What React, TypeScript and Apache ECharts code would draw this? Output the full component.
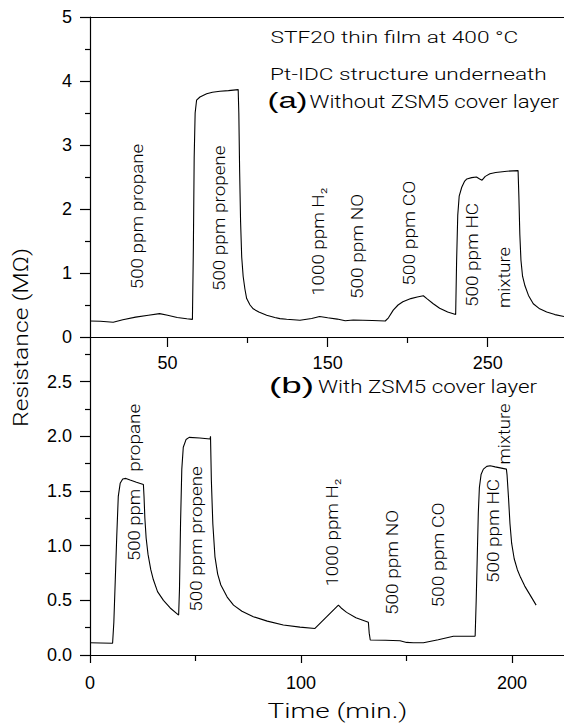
import React, { useEffect, useRef } from "react";
import * as echarts from "echarts";

// ---------- data ----------
// (a) Without ZSM5 cover layer: time (min.) and resistance (MΩ)
const topTime = [
  1.5, 8, 16, 22, 30, 38, 45, 50, 56, 62, 65.5, 66.1, 66.6, 67.2, 68.1, 70.2, 74.4, 78, 82.7, 88, 94.1,
  94.5, 95, 95.6, 96.3, 97.2, 98.3, 99.4, 101.5, 103.5, 107, 111.9, 117, 120.2, 124.4, 132.7, 140, 145,
  150, 156, 161, 166, 172, 178, 186, 188, 191, 194, 197, 202, 206, 209.8, 212, 216, 220, 225, 230,
  230.6, 231.3, 232.2, 233.8, 235.5, 237, 240, 243, 245, 246.5, 248.5, 251.4, 255, 262, 269,
  269.5, 270.1, 270.8, 271.8, 273.3, 275.5, 278.5, 282.5, 286.9, 292, 297.7,
];
const topResistance = [
  0.25, 0.245, 0.23, 0.27, 0.31, 0.34, 0.365, 0.34, 0.305, 0.285, 0.275, 1.4, 2.8, 3.5, 3.7, 3.75, 3.8, 3.825, 3.84, 3.85, 3.865,
  3.5, 2.6, 1.8, 1.25, 0.95, 0.75, 0.6, 0.5, 0.44, 0.39, 0.34, 0.305, 0.287, 0.277, 0.262, 0.29, 0.32,
  0.3, 0.28, 0.255, 0.265, 0.262, 0.258, 0.25, 0.3, 0.42, 0.5, 0.55, 0.6, 0.625, 0.645, 0.6, 0.52, 0.45, 0.39, 0.35,
  1.2, 1.9, 2.2, 2.34, 2.43, 2.47, 2.49, 2.5, 2.47, 2.45, 2.51, 2.55, 2.57, 2.59, 2.6,
  2.2, 1.6, 1.2, 0.95, 0.8, 0.65, 0.52, 0.44, 0.39, 0.35, 0.32,
];

// (b) With ZSM5 cover layer
const bottomTime = [
  0, 5, 10.7, 11.3, 12, 12.7, 13.4, 14.3, 15.5, 17, 19, 22, 25.3, 25.6, 26, 26.6, 27.5, 28.8, 30, 32, 34.8, 38, 42,
  42.4, 42.9, 43.5, 44.2, 45.5, 47, 52, 56.9, 57.1, 57.5, 58.2, 59.2, 60.5, 62, 65, 68, 72, 77.4, 84, 91.6, 99.5,
  106.6, 117.7, 119, 121.6, 126, 131.9, 132.3, 132.8, 140, 146.9, 150, 153.2, 158, 165, 172.2, 182.5,
  183, 183.5, 184, 184.5, 185.3, 186.4, 188, 189.6, 192, 197.3, 197.6, 198.3, 199, 199.8, 201, 202.5, 204, 206,
  208.5, 211.4,
];
const bottomResistance = [
  0.112, 0.11, 0.107, 0.3, 0.7, 1.1, 1.45, 1.57, 1.61, 1.615, 1.6, 1.58, 1.56, 1.45, 1.25, 1.07, 0.92, 0.78, 0.69, 0.58, 0.5, 0.43, 0.365,
  0.6, 1.2, 1.7, 1.9, 1.97, 1.99, 1.985, 1.975, 2.0, 1.6, 1.2, 0.9, 0.74, 0.64, 0.53, 0.456, 0.4, 0.35, 0.31, 0.275, 0.255,
  0.243, 0.456, 0.43, 0.39, 0.34, 0.3, 0.2, 0.137, 0.135, 0.13, 0.115, 0.112, 0.112, 0.14, 0.172, 0.173,
  0.5, 0.9, 1.3, 1.53, 1.65, 1.7, 1.725, 1.73, 1.72, 1.7, 1.65, 1.44, 1.2, 1.02, 0.88, 0.78, 0.71, 0.63,
  0.55, 0.456,
];

// axis ticks / labels
const topXMajor = [50, 150, 250];
const topXMinor = [100, 200];
const topYMajor = [0, 1, 2, 3, 4, 5];
const topYMinor = [0.5, 1.5, 2.5, 3.5, 4.5];
const bottomXMajor = [0, 100, 200];
const bottomXMinor = [50, 150];
const bottomYMajor = [0, 0.5, 1, 1.5, 2, 2.5];
const bottomYMinor = [0.25, 0.75, 1.25, 1.75, 2.25, 2.75];

// annotation texts
const headerTexts = [
  "STF20 thin film at 400 °C",
  "Pt-IDC structure underneath",
  "(a)",
  "Without ZSM5 cover layer",
  "(b)",
  "With ZSM5 cover layer",
];
const gasTexts = [
  "500 ppm propane",
  "500 ppm propene",
  "1000 ppm H₂",
  "500 ppm NO",
  "500 ppm CO",
  "500 ppm HC",
  "mixture",
  "500 ppm",
  "propane",
  "500 ppm propene",
  "1000 ppm H₂",
  "500 ppm NO",
  "500 ppm CO",
  "500 ppm HC",
  "mixture",
];
const xTitle = "Time (min.)";
const yTitle = "Resistance (MΩ)";

// ---------- layout (pixels) ----------
const FONT = '"Liberation Sans", Arial, Helvetica, sans-serif';
const LIGHT = 'Roboto, "Liberation Sans", Arial, sans-serif';
const headerLayout = [
  { x: 270.5, base: 43.3, fs: 16.5, w: 248, bold: false },
  { x: 270, base: 80, fs: 16.5, w: 277, bold: false },
  { x: 267.5, base: 108.3, fs: 22, w: 40, bold: true },
  { x: 309.5, base: 108.3, fs: 18.5, w: 249.5, bold: false },
  { x: 269, base: 393, fs: 22, w: 45, bold: true },
  { x: 318, base: 393, fs: 18.5, w: 219, bold: false },
];
const gasLayout = [
  { bx: 143.3, cy: 216.5 },
  { bx: 225, cy: 218.3 },
  { bx: 324.5, cy: 241.7 },
  { bx: 363, cy: 246.5 },
  { bx: 415, cy: 233.3 },
  { bx: 478.3, cy: 255 },
  { bx: 510, cy: 277.5 },
  { bx: 140, cy: 525 },
  { bx: 140, cy: 437.8 },
  { bx: 201.6, cy: 539 },
  { bx: 338, cy: 532.5 },
  { bx: 398, cy: 562.5 },
  { bx: 444, cy: 555 },
  { bx: 499, cy: 531 },
  { bx: 510, cy: 434 },
];
const GAS_FS = 16;
const GAS_SCALE = 1.16; // relative to Arial-metric width
const MID = 0.345; // baseline offset from 'middle' in em

function measure(text: string, fs: number, weight: string, family: string): number {
  const ctx = document.createElement("canvas").getContext("2d");
  if (!ctx) return text.length * fs * 0.55;
  ctx.font = `${weight} ${fs}px ${family}`;
  return ctx.measureText(text).width;
}

export default function App() {
  const ref = useRef<HTMLDivElement>(null);

  useEffect(() => {
    if (!ref.current) return;
    const chart = echarts.init(ref.current, undefined, { renderer: "svg" });
    const black = "#000";
    const axisLine = { show: true, onZero: false, lineStyle: { color: black, width: 1.2 } };
    const labelStyle = { color: black, fontSize: 18, fontFamily: FONT, fontWeight: "normal" };

    const graphics: any[] = [];
    headerTexts.forEach((t, i) => {
      const L = headerLayout[i];
      const family = L.bold ? FONT : LIGHT;
      const weight = L.bold ? "normal" : "300";
      const nat = measure(t, L.fs, weight, family);
      graphics.push({
        type: "text",
        x: L.x,
        y: L.base - MID * L.fs,
        scaleX: L.w / nat,
        silent: true,
        style: {
          text: t,
          fontSize: L.fs,
          fontFamily: family,
          fontWeight: weight,
          fill: black,
          align: "left",
          verticalAlign: "middle",
        },
      });
    });
    gasTexts.forEach((t, i) => {
      const L = gasLayout[i];
      const target = GAS_SCALE * measure(t, GAS_FS, "normal", FONT);
      const nat = measure(t, GAS_FS, "300", LIGHT);
      graphics.push({
        type: "text",
        x: L.bx - MID * GAS_FS,
        y: L.cy,
        rotation: Math.PI / 2,
        scaleX: target / nat,
        silent: true,
        style: {
          text: t,
          fontSize: GAS_FS,
          fontFamily: LIGHT,
          fontWeight: "300",
          fill: black,
          align: "center",
          verticalAlign: "middle",
        },
      });
    });
    // axis titles
    {
      const fs = 21;
      const nat = measure(xTitle, fs, "300", LIGHT);
      graphics.push({
        type: "text",
        x: 267.5,
        y: 718 - MID * fs,
        scaleX: 140 / nat,
        silent: true,
        style: {
          text: xTitle, fontSize: fs, fontFamily: LIGHT, fontWeight: "300",
          fill: black, align: "left", verticalAlign: "middle",
        },
      });
      const natY = measure(yTitle, fs, "300", LIGHT);
      graphics.push({
        type: "text",
        x: 28.6 - MID * fs,
        y: 337.5,
        rotation: Math.PI / 2,
        scaleX: 179 / natY,
        silent: true,
        style: {
          text: yTitle, fontSize: fs, fontFamily: LIGHT, fontWeight: "300",
          fill: black, align: "center", verticalAlign: "middle",
        },
      });
    }

    const option: any = {
      animation: false,
      backgroundColor: "#fff",
      grid: [
        { left: 90, top: 17, width: 474, height: 320 },
        { left: 90, top: 337, width: 474, height: 318 },
      ],
      xAxis: [
        {
          gridIndex: 0, type: "value", min: 1.5, max: 297.7, position: "bottom",
          axisLine, splitLine: { show: false },
          axisTick: { show: true, inside: false, length: 10, customValues: topXMajor, lineStyle: { color: black, width: 1.2 } },
          axisLabel: { show: true, customValues: topXMajor, margin: 17, ...labelStyle },
        },
        {
          gridIndex: 0, type: "value", min: 1.5, max: 297.7, position: "bottom",
          axisLine: { show: false }, splitLine: { show: false }, axisLabel: { show: false },
          axisTick: { show: true, inside: false, length: 6, customValues: topXMinor, lineStyle: { color: black, width: 1.2 } },
        },
        {
          gridIndex: 0, type: "value", min: 1.5, max: 297.7, position: "top",
          axisLine, splitLine: { show: false }, axisLabel: { show: false }, axisTick: { show: false },
        },
        {
          gridIndex: 1, type: "value", min: 0, max: 224.6, position: "bottom",
          axisLine, splitLine: { show: false },
          axisTick: { show: true, inside: false, length: 8, customValues: bottomXMajor, lineStyle: { color: black, width: 1.2 } },
          axisLabel: { show: true, customValues: bottomXMajor, margin: 19, ...labelStyle },
        },
        {
          gridIndex: 1, type: "value", min: 0, max: 224.6, position: "bottom",
          axisLine: { show: false }, splitLine: { show: false }, axisLabel: { show: false },
          axisTick: { show: true, inside: false, length: 6, customValues: bottomXMinor, lineStyle: { color: black, width: 1.2 } },
        },
      ],
      yAxis: [
        {
          gridIndex: 0, type: "value", min: 0, max: 5, position: "left",
          axisLine, splitLine: { show: false },
          axisTick: { show: true, inside: false, length: 10, customValues: topYMajor, lineStyle: { color: black, width: 1.2 } },
          axisLabel: { show: true, customValues: topYMajor, margin: 18, ...labelStyle },
        },
        {
          gridIndex: 0, type: "value", min: 0, max: 5, position: "left",
          axisLine: { show: false }, splitLine: { show: false }, axisLabel: { show: false },
          axisTick: { show: true, inside: false, length: 5, customValues: topYMinor, lineStyle: { color: black, width: 1.2 } },
        },
        {
          gridIndex: 1, type: "value", min: 0, max: 2.908, position: "left",
          axisLine, splitLine: { show: false },
          axisTick: { show: true, inside: false, length: 10, customValues: bottomYMajor, lineStyle: { color: black, width: 1.2 } },
          axisLabel: {
            show: true, customValues: bottomYMajor, margin: 18, ...labelStyle,
            formatter: (v: number) => v.toFixed(1),
          },
        },
        {
          gridIndex: 1, type: "value", min: 0, max: 2.908, position: "left",
          axisLine: { show: false }, splitLine: { show: false }, axisLabel: { show: false },
          axisTick: { show: true, inside: false, length: 5, customValues: bottomYMinor, lineStyle: { color: black, width: 1.2 } },
        },
      ],
      series: [
        {
          type: "line", xAxisIndex: 0, yAxisIndex: 0, symbol: "none", showSymbol: false,
          data: topTime.map((t, i) => [t, topResistance[i]]),
          lineStyle: { color: black, width: 1.1 }, silent: true,
        },
        {
          type: "line", xAxisIndex: 3, yAxisIndex: 2, symbol: "none", showSymbol: false,
          data: bottomTime.map((t, i) => [t, bottomResistance[i]]),
          lineStyle: { color: black, width: 1.1 }, silent: true,
        },
      ],
      graphic: graphics,
    };
    chart.setOption(option);
    return () => chart.dispose();
  }, []);

  return (
    <div
      ref={ref}
      style={{ position: "absolute", left: 0, top: 0, width: 564, height: 723, background: "#fff" }}
    />
  );
}
